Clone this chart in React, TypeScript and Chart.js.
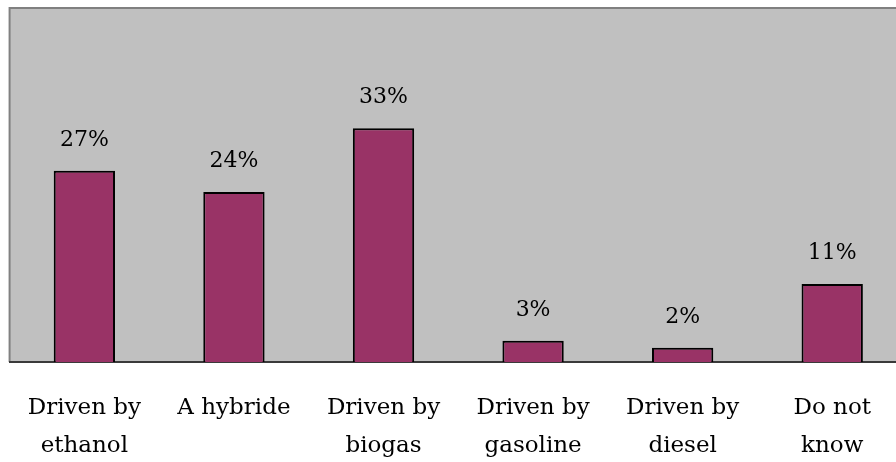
import React, { useEffect, useRef } from "react";
import { Chart, registerables } from "chart.js";

Chart.register(...registerables);

// Survey answers: preferred kind of car
const categories: string[][] = [
  ["Driven by", "ethanol"],
  ["A hybride"],
  ["Driven by", "biogas"],
  ["Driven by", "gasoline"],
  ["Driven by", "diesel"],
  ["Do not", "know"],
];
const shares: number[] = [27, 24, 33, 3, 2, 11];
const yMax = 50;

const FONT = "'DejaVu Serif', 'Liberation Serif', serif";

// Grey plot background with a thin frame, drawn under the bars
const plotBackground = {
  id: "plotBackground",
  beforeDraw(chart: any) {
    const { ctx, chartArea } = chart;
    const { left, top, right, bottom } = chartArea;
    ctx.save();
    ctx.fillStyle = "#C0C0C0";
    ctx.fillRect(left, top, right - left, bottom - top);
    ctx.strokeStyle = "#808080";
    ctx.lineWidth = 2;
    ctx.beginPath();
    ctx.moveTo(left, bottom);
    ctx.lineTo(left, top);
    ctx.lineTo(right, top);
    ctx.lineTo(right, bottom);
    ctx.stroke();
    ctx.restore();
  },
};

// Percentage written above each bar
const valueLabels = {
  id: "valueLabels",
  afterDatasetsDraw(chart: any) {
    const { ctx } = chart;
    const meta = chart.getDatasetMeta(0);
    const data = chart.data.datasets[0].data as number[];
    ctx.save();
    ctx.fillStyle = "#000";
    ctx.font = `22px ${FONT}`;
    ctx.textAlign = "center";
    ctx.textBaseline = "alphabetic";
    meta.data.forEach((bar: any, i: number) => {
      ctx.fillText(`${data[i]}%`, bar.x, bar.y - 25);
    });
    ctx.restore();
  },
};

export default function App() {
  const canvasRef = useRef<HTMLCanvasElement | null>(null);

  useEffect(() => {
    document.body.style.margin = "0";
    const canvas = canvasRef.current;
    if (!canvas) return;
    const chart = new Chart(canvas, {
      type: "bar",
      data: {
        labels: categories,
        datasets: [
          {
            data: shares,
            backgroundColor: "#993366",
            borderColor: "#000000",
            borderWidth: 2,
            barPercentage: 0.41,
            categoryPercentage: 1,
          },
        ],
      },
      options: {
        responsive: false,
        animation: false,
        layout: { padding: { left: 9, top: 8, right: 13, bottom: 0 } },
        plugins: {
          legend: { display: false },
          tooltip: { enabled: false },
        },
        scales: {
          x: {
            grid: { display: false, drawTicks: false },
            border: { display: true, color: "#3a3a3a", width: 2 },
            ticks: {
              color: "#000",
              font: { family: FONT, size: 23, lineHeight: 1.65 },
              padding: 27,
              maxRotation: 0,
              autoSkip: false,
            },
            afterFit: (scale: any) => {
              scale.height = 100;
            },
          },
          y: {
            display: false,
            min: 0,
            max: yMax,
          },
        },
      },
      plugins: [plotBackground, valueLabels],
    });
    return () => chart.destroy();
  }, []);

  return (
    <div
      style={{
        position: "fixed",
        left: 0,
        top: 0,
        width: 896,
        height: 462,
        overflow: "hidden",
        background: "#fff",
      }}
    >
      <canvas ref={canvasRef} width={920} height={462} />
    </div>
  );
}
